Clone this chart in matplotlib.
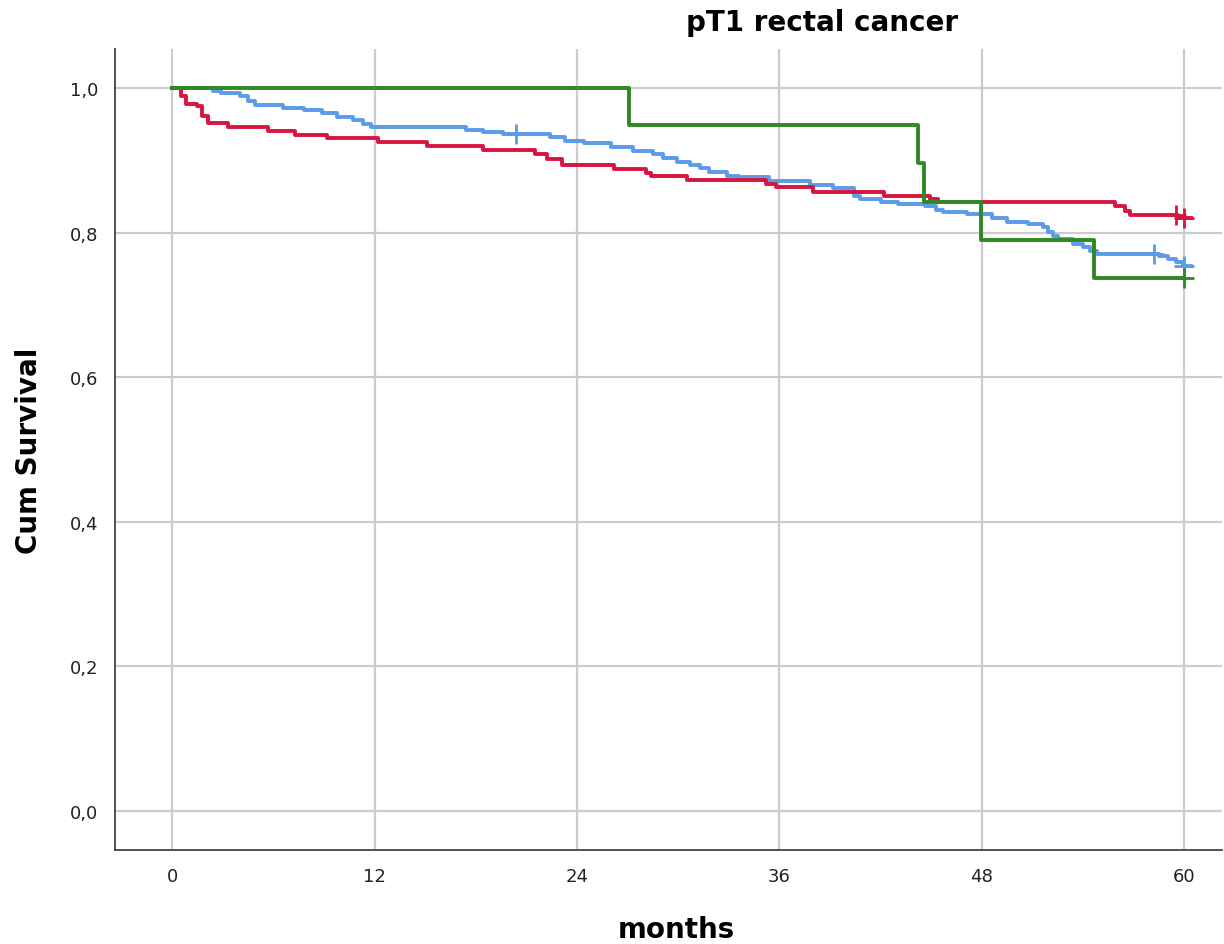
import matplotlib.pyplot as plt

# Kaplan-Meier steps (months, cumulative survival)
red_t = [0, 0.5, 0.8, 1.5, 1.8, 2.1, 3.3, 5.7, 7.3, 9.2, 12.2, 15.1, 18.4,
         21.5, 22.2, 23.1, 26.2, 28.1, 28.4, 30.5, 35.2, 35.8, 38.0, 42.2,
         44.9, 45.4, 55.9, 56.5, 56.8, 59.6, 60.4]
red_s = [1.0, 0.989, 0.978, 0.975, 0.961, 0.952, 0.946, 0.940, 0.935, 0.931,
         0.925, 0.920, 0.914, 0.909, 0.902, 0.893, 0.888, 0.883, 0.878, 0.873,
         0.868, 0.863, 0.856, 0.851, 0.846, 0.842, 0.837, 0.830, 0.824, 0.821,
         0.821]
red_cens_t = [59.5, 60.0]
red_cens_s = [0.824, 0.821]

blue_t = [0, 2.4, 2.9, 4.0, 4.5, 4.9, 6.6, 7.8, 8.9, 9.8, 10.7, 11.3, 11.8,
          17.4, 18.4, 19.6, 22.4, 23.3, 24.4, 26.0, 27.3, 28.5, 29.1, 29.9,
          30.7, 31.3, 31.8, 32.9, 33.6, 35.4, 37.8, 39.2, 40.4, 40.8, 42.0,
          43.0, 44.6, 45.3, 45.7, 47.1, 48.6, 49.5, 50.7, 51.6, 51.9, 52.2,
          52.5, 53.4, 54.0, 54.4, 54.8, 58.5, 59.0, 59.5, 59.9, 60.4]
blue_s = [1.0, 0.996, 0.993, 0.989, 0.982, 0.976, 0.973, 0.970, 0.965, 0.960,
          0.956, 0.951, 0.946, 0.942, 0.939, 0.936, 0.932, 0.927, 0.924, 0.918,
          0.913, 0.909, 0.903, 0.898, 0.893, 0.889, 0.884, 0.879, 0.877, 0.871,
          0.866, 0.862, 0.851, 0.847, 0.843, 0.839, 0.837, 0.832, 0.829, 0.826,
          0.820, 0.815, 0.812, 0.808, 0.801, 0.795, 0.791, 0.784, 0.780, 0.775,
          0.770, 0.768, 0.764, 0.759, 0.754, 0.754]
blue_cens_t = [20.4, 58.2, 60.0]
blue_cens_s = [0.936, 0.770, 0.754]

green_t = [0, 27.1, 44.2, 44.55, 47.95, 54.65, 60.0]
green_s = [1.0, 0.949, 0.896, 0.842, 0.790, 0.737, 0.737]
green_cens_t = [60.0]
green_cens_s = [0.737]

xticks = [0, 12, 24, 36, 48, 60]
yticks = [0.0, 0.2, 0.4, 0.6, 0.8, 1.0]
ylabels = ["0,0", "0,2", "0,4", "0,6", "0,8", "1,0"]

c_red = "#d8153f"
c_blue = "#5b9be8"
c_green = "#2f8a24"

plt.rcParams['font.family'] = ['DejaVu Sans']

fig = plt.figure(figsize=(12.24, 9.45), dpi=100)
ax = fig.add_axes([0.094, 0.0995, 0.904, 0.8475])

ax.step(blue_t, blue_s, where="post", color=c_blue, lw=2.8)
ax.step(red_t, red_s, where="post", color=c_red, lw=2.8)
ax.step(green_t, green_s, where="post", color=c_green, lw=2.8)
ax.plot(blue_cens_t, blue_cens_s, "+", color=c_blue, ms=14, mew=2)
ax.plot(red_cens_t, red_cens_s, "+", color=c_red, ms=14, mew=2)
ax.plot(green_cens_t, green_cens_s, "+", color=c_green, ms=14, mew=2)

ax.set_xlim(-3.38, 62.2)
ax.set_ylim(-0.054, 1.054)
ax.set_xticks(xticks)
ax.set_yticks(yticks)
ax.set_yticklabels(ylabels)
ax.tick_params(length=0, labelsize=13, pad=12, colors="#222222")
ax.grid(True, color="#cccccc", lw=1.6)
ax.set_axisbelow(True)
for s in ["top", "right"]:
    ax.spines[s].set_visible(False)
for s in ["left", "bottom"]:
    ax.spines[s].set_color("#444444")
    ax.spines[s].set_linewidth(1.3)

fig.text(0.553, 0.016, "months", fontsize=20, fontweight="bold",
         ha="center", va="center")
fig.text(0.012, 0.523, "Cum Survival", fontsize=20, fontweight="bold",
         ha="left", va="center", rotation=90)
fig.text(0.672, 0.976, "pT1 rectal cancer", fontsize=20, fontweight="bold",
         ha="center", va="center")

plt.savefig("out.png", dpi=100)
